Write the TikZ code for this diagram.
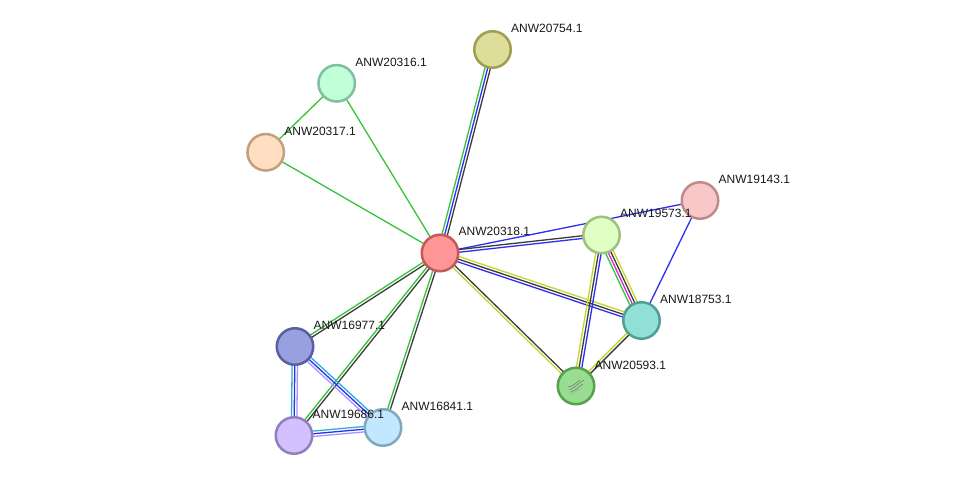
\documentclass[tikz,border=0pt]{standalone}
\usepackage{fontspec}
\setmainfont{Liberation Sans}
\usetikzlibrary{calc,backgrounds}
\definecolor{cgreen}{RGB}{55,195,55}
\definecolor{cblue}{RGB}{45,45,245}
\definecolor{cblack}{RGB}{60,60,60}
\definecolor{cyel}{RGB}{195,215,45}
\definecolor{cmag}{RGB}{215,40,215}
\definecolor{ccyan}{RGB}{40,175,215}
\definecolor{clil}{RGB}{165,150,250}
\definecolor{f20318}{RGB}{255,150,150}\definecolor{d20318}{RGB}{195,90,90}
\definecolor{f20754}{RGB}{222,221,153}\definecolor{d20754}{RGB}{160,158,82}
\definecolor{f20316}{RGB}{192,255,216}\definecolor{d20316}{RGB}{128,192,160}
\definecolor{f20317}{RGB}{255,222,194}\definecolor{d20317}{RGB}{192,160,128}
\definecolor{f19143}{RGB}{248,200,200}\definecolor{d19143}{RGB}{192,138,138}
\definecolor{f19573}{RGB}{224,255,196}\definecolor{d19573}{RGB}{160,192,128}
\definecolor{f18753}{RGB}{145,224,214}\definecolor{d18753}{RGB}{80,158,150}
\definecolor{f20593}{RGB}{152,221,145}\definecolor{d20593}{RGB}{88,160,80}
\definecolor{f16977}{RGB}{152,160,224}\definecolor{d16977}{RGB}{88,96,160}
\definecolor{f19686}{RGB}{210,192,255}\definecolor{d19686}{RGB}{145,128,192}
\definecolor{f16841}{RGB}{194,232,255}\definecolor{d16841}{RGB}{128,168,192}
\tikzset{
  prot/.style={circle, minimum size=36.5pt, inner sep=0pt, line width=2.5pt},
  lab/.style={anchor=base west, font=\fontsize{12}{14}\selectfont, inner sep=0pt, text=black!90},
  ln/.style={line width=1.3pt},
  scrib/.style={line width=0.5pt, draw=black!55},
}
\newcommand\multiedge[3]{%
  \foreach \o/\c in {#3}
    \draw[ln,\c] ($(#1.center)!\o pt!90:(#2.center)$) -- ($(#2.center)!\o pt!-90:(#1.center)$);}
\newcommand\prot[3]{%
  \node[prot, fill=f#1, draw=d#1] (a#1) at (#2,#3) {};}
\newcommand\plab[2]{%
  \node[lab] (l#1) at ($(a#1.center)+(18.5,-17)$) {#2};}
\begin{document}
\begin{tikzpicture}[x=1pt,y=-1pt]
\useasboundingbox (0,0) rectangle (975,481);
\prot{20318}{440}{253}
\prot{20754}{492.5}{49.5}
\prot{20316}{336.7}{83.3}
\prot{20317}{265.7}{152.3}
\prot{19143}{700}{200.5}
\prot{19573}{601.5}{235}
\prot{18753}{641.5}{320.5}
\prot{20593}{576}{386}
\prot{16977}{295}{346.5}
\prot{19686}{294}{435.5}
\prot{16841}{383}{427.5}
% small structure sketch inside ANW20593.1
\begin{scope}[shift={(a20593.center)}]
\draw[scrib] (-7,4) -- (-3,2) -- (1,-1) -- (5,-4) -- (8,-6);
\draw[scrib] (-5,6) -- (-1,4) -- (3,1) -- (7,-2);
\draw[scrib] (-8,1) -- (-4,0) -- (0,-3) -- (4,-6);
\draw[scrib,black!35] (-6,8) -- (-2,6.5) -- (2,4) -- (6,2);
\end{scope}
\plab{20318}{ANW20318.1}
\plab{20754}{ANW20754.1}
\plab{20316}{ANW20316.1}
\plab{20317}{ANW20317.1}
\plab{19143}{ANW19143.1}
\plab{19573}{ANW19573.1}
\plab{18753}{ANW18753.1}
\plab{20593}{ANW20593.1}
\plab{16977}{ANW16977.1}
\plab{19686}{ANW19686.1}
\plab{16841}{ANW16841.1}
\begin{scope}[on background layer]
\fill[white] (0,0) rectangle (975,481);
\multiedge{a20318}{a20754}{2.7/cgreen,0/cblue,-2.7/cblack}
\multiedge{a20318}{a20316}{0/cgreen}
\multiedge{a20318}{a20317}{0/cgreen}
\multiedge{a20316}{a20317}{0/cgreen}
\multiedge{a20318}{a19143}{0/cblue}
\multiedge{a18753}{a19143}{0/cblue}
\multiedge{a20318}{a19573}{1.35/cblack,-1.35/cblue}
\multiedge{a20318}{a18753}{2.7/cyel,0/cblack,-2.7/cblue}
\multiedge{a20318}{a20593}{1.35/cblack,-1.35/cyel}
\multiedge{a19573}{a18753}{-4/cgreen,-1.35/cmag,1.35/cblack,4/cyel}
\multiedge{a19573}{a20593}{-2.7/cyel,0/cblack,2.7/cblue}
\multiedge{a18753}{a20593}{-1.35/cyel,1.35/cblack}
\multiedge{a20318}{a16977}{1.35/cblack,-1.35/cgreen}
\multiedge{a20318}{a19686}{1.35/cblack,-1.35/cgreen}
\multiedge{a20318}{a16841}{1.35/cblack,-1.35/cgreen}
\multiedge{a16977}{a19686}{-2.7/ccyan,0/cblue,2.7/clil}
\multiedge{a16977}{a16841}{2.7/ccyan,0/cblue,-2.7/clil}
\multiedge{a19686}{a16841}{2.7/ccyan,0/cblue,-2.7/clil}
\end{scope}
\end{tikzpicture}
\end{document}
